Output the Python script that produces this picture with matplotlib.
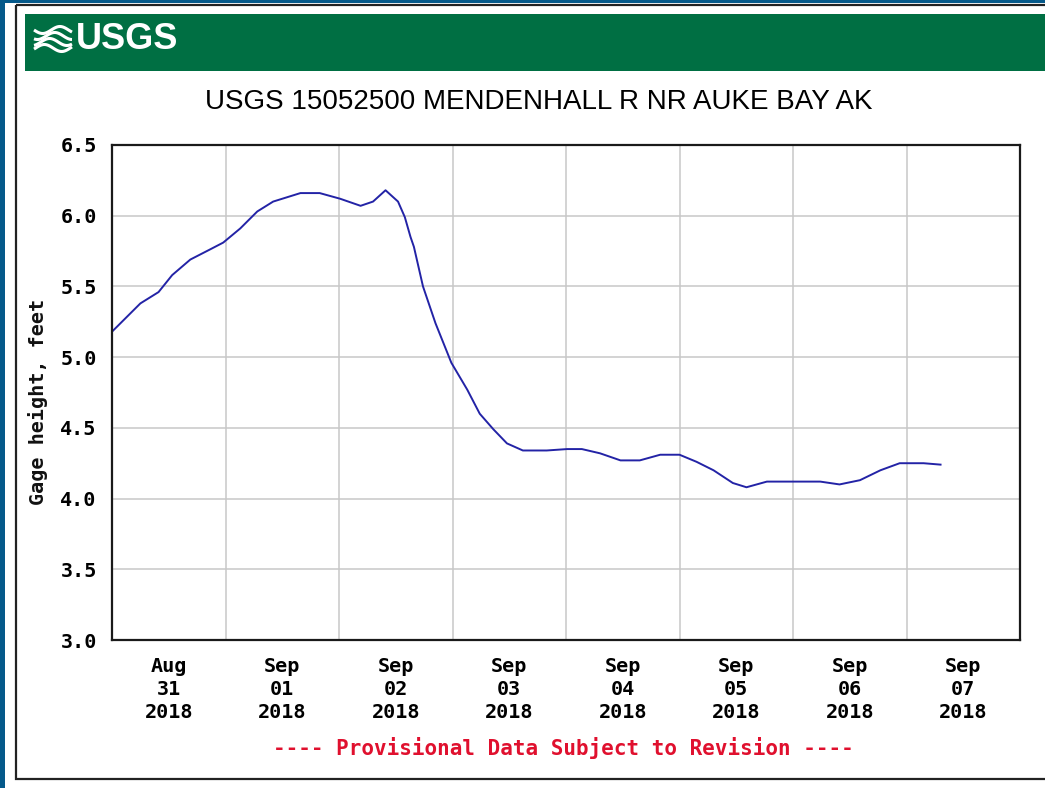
import numpy as np
import matplotlib
matplotlib.use("Agg")
import matplotlib.pyplot as plt
from matplotlib.patches import Rectangle
from matplotlib import font_manager

# ---------------- data ----------------
# days since 2018-08-31 00:00
days = [0.0, 0.25, 0.41, 0.53, 0.69, 0.86, 0.98, 1.13, 1.28, 1.42, 1.66, 1.83,
        2.01, 2.19, 2.30, 2.41, 2.52, 2.58, 2.63, 2.66, 2.74, 2.85, 2.99, 3.13,
        3.24, 3.36, 3.48, 3.62, 3.83, 4.01, 4.14, 4.30, 4.48, 4.65, 4.83, 5.00,
        5.15, 5.30, 5.47, 5.59, 5.77, 6.00, 6.24, 6.41, 6.59, 6.77, 6.94, 7.15, 7.30]
gage_ft = [5.18, 5.38, 5.46, 5.58, 5.69, 5.76, 5.81, 5.91, 6.03, 6.10, 6.16, 6.16,
           6.12, 6.07, 6.10, 6.18, 6.10, 5.99, 5.85, 5.78, 5.50, 5.24, 4.96, 4.77,
           4.60, 4.49, 4.39, 4.34, 4.34, 4.35, 4.35, 4.32, 4.27, 4.27, 4.31, 4.31,
           4.26, 4.20, 4.11, 4.08, 4.12, 4.12, 4.12, 4.10, 4.13, 4.20, 4.25, 4.25, 4.24]
x_labels = ["Aug\n31\n2018", "Sep\n01\n2018", "Sep\n02\n2018", "Sep\n03\n2018",
            "Sep\n04\n2018", "Sep\n05\n2018", "Sep\n06\n2018", "Sep\n07\n2018"]
y_ticks = [3.0, 3.5, 4.0, 4.5, 5.0, 5.5, 6.0, 6.5]
title = "USGS 15052500 MENDENHALL R NR AUKE BAY AK"
y_label = "Gage height, feet"
footer = "---- Provisional Data Subject to Revision ----"

# ---------------- style ----------------
W, H = 1045, 788
BLUE_BG = "#05598a"
GREEN = "#006f43"
LINE = "#2323a6"
RED = "#e0102e"
MONO = "DejaVu Sans Mono"
FS = 14.5

names = {f.name for f in font_manager.fontManager.ttflist}
logo_family = "Liberation Sans Narrow" if "Liberation Sans Narrow" in names else "Liberation Sans"
logo_size = 29 if logo_family == "Liberation Sans Narrow" else 26

fig = plt.figure(figsize=(W / 100, H / 100), dpi=100, facecolor=BLUE_BG)

# background / decoration axes in pixel coordinates
bg = fig.add_axes([0, 0, 1, 1])
bg.set_xlim(0, W)
bg.set_ylim(H, 0)
bg.axis("off")
bg.add_patch(Rectangle((5, 3), W, H, facecolor="white", edgecolor="none"))
bg.add_patch(Rectangle((16, 5), W + 20, 774, facecolor="none", edgecolor="#222222", lw=1.6))
bg.add_patch(Rectangle((25, 14), W + 20, 57, facecolor=GREEN, edgecolor="none"))

# logo waves
t = np.linspace(0, 1, 60)
for k in range(4):
    yy = 30 + k * 6 + 3.5 * np.sin(2 * np.pi * (t * 1.1 + k * 0.15))
    bg.plot(34 + t * 38, yy, color="white", lw=2.2, solid_capstyle="butt")
bg.text(76, 39, "USGS", color="white", fontsize=logo_size, fontweight="bold",
        family=logo_family, ha="left", va="center")

fig.text(538.5 / W, 1 - 102 / H, title, ha="center", va="center",
         fontsize=20, family="Liberation Sans", color="black")

# ---------------- main chart ----------------
ax = fig.add_axes([112 / W, 1 - 640 / H, 908 / W, 495 / H])
ax.set_facecolor("white")
ax.plot(days, gage_ft, color=LINE, lw=1.4)
ax.set_xlim(0, 8)
ax.set_ylim(3.0, 6.5)

ax.set_xticks([i + 0.5 for i in range(len(x_labels))])
ax.set_xticklabels(x_labels, family=MONO, fontweight="bold", fontsize=FS,
                   linespacing=1.27)
ax.set_xticks(list(range(1, 8)), minor=True)
ax.set_yticks(y_ticks)
ax.set_yticklabels([f"{v:.1f}" for v in y_ticks], family=MONO,
                   fontweight="bold", fontsize=FS)
ax.tick_params(axis="both", which="both", length=0)
ax.tick_params(axis="x", pad=12)
ax.tick_params(axis="y", pad=11)
ax.grid(True, axis="y", which="major", color="#c8c8c8", lw=1.1)
ax.grid(True, axis="x", which="minor", color="#c8c8c8", lw=1.1)
ax.set_axisbelow(True)
for s in ax.spines.values():
    s.set_color("#1a1a1a")
    s.set_linewidth(1.6)

fig.text(38 / W, 1 - 402 / H, y_label, rotation=90, ha="center", va="center",
         family=MONO, fontweight="bold", fontsize=FS, color="#111111")
fig.text(563 / W, 1 - 748 / H, footer, ha="center", va="center",
         family=MONO, fontweight="bold", fontsize=15, color=RED)

fig.savefig("out.png", dpi=100, facecolor=fig.get_facecolor())
